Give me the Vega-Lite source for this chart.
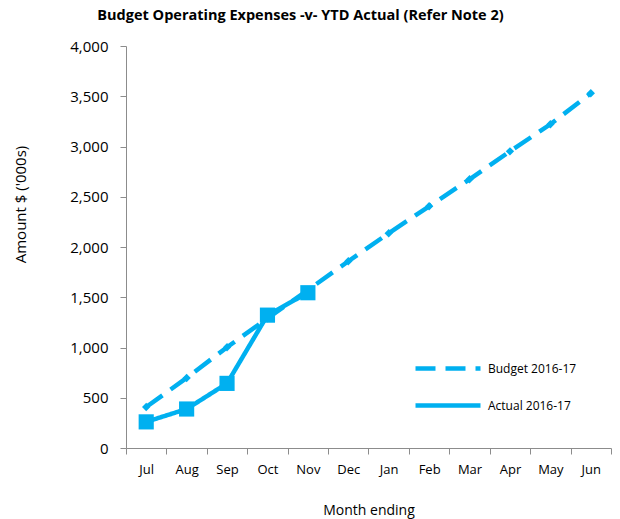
{
  "$schema": "https://vega.github.io/schema/vega-lite/v6.json",
  "width": 485,
  "height": 402,
  "autosize": {"type": "none"},
  "padding": {"left": 126, "top": 46, "right": 9, "bottom": 71},
  "background": "white",
  "config": {
    "font": "Open Sans",
    "view": {"stroke": null}
  },
  "title": {
    "text": "Budget Operating Expenses -v- YTD Actual (Refer Note 2)",
    "font": "Open Sans",
    "fontSize": 14.5,
    "fontWeight": "bold",
    "color": "black",
    "dx": -68,
    "offset": 16
  },
  "data": {
    "values": [
      {"month": "Jul", "series": "Budget 2016-17", "value": 408},
      {"month": "Aug", "series": "Budget 2016-17", "value": 697},
      {"month": "Sep", "series": "Budget 2016-17", "value": 1003},
      {"month": "Oct", "series": "Budget 2016-17", "value": 1290},
      {"month": "Nov", "series": "Budget 2016-17", "value": 1572},
      {"month": "Dec", "series": "Budget 2016-17", "value": 1858},
      {"month": "Jan", "series": "Budget 2016-17", "value": 2137},
      {"month": "Feb", "series": "Budget 2016-17", "value": 2405},
      {"month": "Mar", "series": "Budget 2016-17", "value": 2674},
      {"month": "Apr", "series": "Budget 2016-17", "value": 2952},
      {"month": "May", "series": "Budget 2016-17", "value": 3221},
      {"month": "Jun", "series": "Budget 2016-17", "value": 3530},
      {"month": "Jul", "series": "Actual 2016-17", "value": 260},
      {"month": "Aug", "series": "Actual 2016-17", "value": 388},
      {"month": "Sep", "series": "Actual 2016-17", "value": 643},
      {"month": "Oct", "series": "Actual 2016-17", "value": 1322},
      {"month": "Nov", "series": "Actual 2016-17", "value": 1545}
    ]
  },
  "encoding": {
    "x": {
      "field": "month",
      "type": "ordinal",
      "sort": ["Jul", "Aug", "Sep", "Oct", "Nov", "Dec", "Jan", "Feb", "Mar", "Apr", "May", "Jun"],
      "scale": {"type": "band", "paddingInner": 0, "paddingOuter": 0},
      "bandPosition": 0.5,
      "axis": {
        "title": "Month ending",
        "titleFontSize": 14,
        "titleFontWeight": "normal",
        "titleColor": "black",
        "titlePadding": 27,
        "labelAngle": 0,
        "labelFontSize": 13,
        "labelColor": "black",
        "labelPadding": 9,
        "tickBand": "extent",
        "tickSize": 6,
        "tickColor": "#8c8c8c",
        "domainColor": "#8c8c8c",
        "grid": false
      }
    },
    "y": {
      "field": "value",
      "type": "quantitative",
      "scale": {"domain": [0, 4000], "nice": false},
      "axis": {
        "title": "Amount $ ('000s)",
        "titleFontSize": 15,
        "titleFontWeight": "normal",
        "titleColor": "black",
        "titleX": -98,
        "titleY": 158,
        "values": [0, 500, 1000, 1500, 2000, 2500, 3000, 3500, 4000],
        "format": ",.0f",
        "labelFontSize": 15,
        "labelColor": "black",
        "labelPadding": 12,
        "tickSize": 6,
        "tickColor": "#8c8c8c",
        "domainColor": "#8c8c8c",
        "grid": false
      }
    }
  },
  "resolve": {"scale": {"shape": "independent", "size": "independent"}},
  "layer": [
    {
      "mark": {"type": "line", "strokeWidth": 4.5, "strokeCap": "butt"},
      "encoding": {
        "color": {
          "field": "series",
          "type": "nominal",
          "scale": {"domain": ["Budget 2016-17", "Actual 2016-17"], "range": ["#00B0F0", "#00B0F0"]},
          "legend": {
            "title": null,
            "orient": "none",
            "legendX": 287,
            "legendY": 304,
            "symbolType": "stroke",
            "symbolSize": 4225,
            "symbolStrokeWidth": 4.5,
            "labelFontSize": 12,
            "labelColor": "black",
            "labelOffset": 5,
            "clipHeight": 37,
            "rowPadding": 0,
            "padding": 0
          }
        },
        "strokeDash": {
          "field": "series",
          "type": "nominal",
          "scale": {"domain": ["Budget 2016-17", "Actual 2016-17"], "range": [[20, 10], [1, 0]]},
          "legend": {
            "title": null,
            "orient": "none",
            "legendX": 287,
            "legendY": 304,
            "symbolType": "stroke",
            "symbolSize": 4225,
            "symbolStrokeWidth": 4.5,
            "labelFontSize": 12,
            "labelColor": "black",
            "labelOffset": 5,
            "clipHeight": 37,
            "rowPadding": 0,
            "padding": 0
          }
        }
      }
    },
    {
      "mark": {"type": "point", "filled": true, "opacity": 1},
      "encoding": {
        "color": {"value": "#00B0F0"},
        "shape": {
          "field": "series",
          "type": "nominal",
          "scale": {"domain": ["Budget 2016-17", "Actual 2016-17"], "range": ["diamond", "square"]},
          "legend": null
        },
        "size": {
          "field": "series",
          "type": "nominal",
          "scale": {"domain": ["Budget 2016-17", "Actual 2016-17"], "range": [70, 230]},
          "legend": null
        }
      }
    }
  ]
}
